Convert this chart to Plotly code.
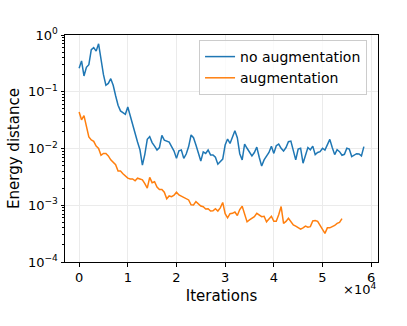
import plotly.graph_objects as go

# iterations are logged every 500 steps
step = 500

no_aug = [
    0.26, 0.35, 0.19, 0.27, 0.30, 0.55, 0.60, 0.52, 0.70, 0.36,
    0.20, 0.13, 0.14, 0.17, 0.13, 0.085, 0.058, 0.046, 0.043, 0.040,
    0.054, 0.037, 0.026, 0.019, 0.013, 0.0095, 0.0051, 0.0079, 0.0145, 0.0162,
    0.0127, 0.011, 0.0094, 0.0104, 0.017, 0.014, 0.0137, 0.013, 0.0108, 0.009,
    0.0067, 0.0091, 0.0094, 0.0067, 0.008, 0.0108, 0.0173, 0.0155, 0.0115, 0.008,
    0.006, 0.0087, 0.0082, 0.0094, 0.0077, 0.0077, 0.007, 0.0053, 0.006, 0.0065,
    0.0115, 0.0147, 0.0123, 0.0153, 0.0205, 0.0155, 0.0081, 0.0063, 0.012, 0.0101,
    0.0088, 0.0074, 0.0085, 0.0106, 0.0070, 0.0049, 0.0063, 0.0072, 0.0085, 0.011,
    0.0082, 0.0112, 0.012, 0.0101, 0.009, 0.0104, 0.0132, 0.0135, 0.0088, 0.0063,
    0.0098, 0.0101, 0.0055, 0.0075, 0.0104, 0.0095, 0.011, 0.0078, 0.0085, 0.0088,
    0.0101, 0.0094, 0.0116, 0.0145, 0.0104, 0.0078, 0.0095, 0.0088, 0.0076, 0.0079,
    0.0101, 0.0098, 0.0072, 0.0077, 0.0081, 0.008, 0.0074, 0.0108,
]

aug = [
    0.044, 0.032, 0.038, 0.026, 0.016, 0.0141, 0.0134, 0.011, 0.010, 0.0076,
    0.0082, 0.0082, 0.0074, 0.0063, 0.0058, 0.0052, 0.0040, 0.0040, 0.0036, 0.0033,
    0.0030, 0.0029, 0.0029, 0.0027, 0.0030, 0.0029, 0.0028, 0.0024, 0.0020, 0.0031,
    0.0025, 0.0026, 0.0021, 0.0019, 0.0019, 0.0017, 0.0013, 0.00146, 0.00142, 0.0015,
    0.0017, 0.00152, 0.00144, 0.00134, 0.0013, 0.00124, 0.00102, 0.00101, 0.00116, 0.00108,
    0.00097, 0.00094, 0.00086, 0.00087, 0.00079, 0.0008, 0.00087, 0.00079, 0.0009, 0.00112,
    0.00071, 0.0006, 0.00071, 0.00072, 0.00076, 0.00066, 0.00084, 0.00096, 0.00067, 0.00051,
    0.00055, 0.00059, 0.00063, 0.00072, 0.00066, 0.00063, 0.00064, 0.00051, 0.00057, 0.00064,
    0.00052, 0.00052, 0.00068, 0.00095, 0.00048, 0.00052, 0.00059, 0.00051, 0.00045, 0.00043,
    0.0004, 0.00038, 0.0004, 0.00043, 0.00041, 0.00042, 0.00053, 0.00054, 0.00052, 0.00045,
    0.00037, 0.00032, 0.0004, 0.0004, 0.00042, 0.00044, 0.00048, 0.0005, 0.00058,
]

x_blue = [i * step for i in range(len(no_aug))]
x_orange = [i * step for i in range(len(aug))]

x_ticks = [0, 10000, 20000, 30000, 40000, 50000, 60000]
x_labels = ["0", "1", "2", "3", "4", "5", "6"]
y_ticks = [1e-4, 1e-3, 1e-2, 1e-1, 1]
y_labels = ["10<sup>−4</sup>", "10<sup>−3</sup>", "10<sup>−2</sup>", "10<sup>−1</sup>", "10<sup>0</sup>"]

font = "DejaVu Sans"

fig = go.Figure()
fig.add_trace(go.Scatter(x=x_blue, y=no_aug, mode="lines", name="no augmentation",
                         line=dict(color="#1f77b4", width=1.5)))
fig.add_trace(go.Scatter(x=x_orange, y=aug, mode="lines", name="augmentation",
                         line=dict(color="#ff7f0e", width=1.5)))

fig.update_xaxes(range=[-2900, 61400], tickvals=x_ticks, ticktext=x_labels,
                 automargin=False,
                 showline=True, linecolor="black", linewidth=1, mirror=True,
                 ticks="outside", ticklen=3.5, tickwidth=0.8, tickcolor="black",
                 showgrid=True, gridcolor="#ebebeb", gridwidth=0.8, zeroline=False,
                 tickfont=dict(family=font, size=13, color="black"),
                 title=dict(text="Iterations", standoff=6,
                            font=dict(family=font, size=15, color="black")))
fig.update_yaxes(type="log", range=[-4, 0], tickvals=y_ticks, ticktext=y_labels,
                 automargin=False,
                 showline=True, linecolor="black", linewidth=1, mirror=True,
                 ticks="outside", ticklen=3.5, tickwidth=0.8, tickcolor="black",
                 showgrid=True, gridcolor="#ebebeb", gridwidth=0.8, zeroline=False,
                 minor=dict(ticks="outside", ticklen=2, tickwidth=0.6, tickcolor="black",
                            dtick="D1", showgrid=False),
                 tickfont=dict(family=font, size=13, color="black"),
                 title=dict(text="Energy distance", standoff=4,
                            font=dict(family=font, size=15, color="black")))

fig.add_annotation(x=1.0, y=-0.076, xref="paper", yref="paper", xanchor="right",
                   yanchor="top", showarrow=False, text="×10<sup>4</sup>",
                   font=dict(family=font, size=13, color="black"))

fig.update_layout(
    width=407, height=326,
    margin=dict(l=65, r=29, t=35, b=64),
    paper_bgcolor="white", plot_bgcolor="white",
    showlegend=True,
    legend=dict(x=0.965, y=0.978, xanchor="right", yanchor="top",
                bgcolor="rgba(255,255,255,0.8)", bordercolor="#cccccc", borderwidth=1,
                itemwidth=30, font=dict(family=font, size=14, color="black")),
)

# the page body has a default 8px margin; drop it so the figure sits at the corner
fig.write_html("out.html", config={"displayModeBar": False},
               post_script="document.body.style.margin='0';")
